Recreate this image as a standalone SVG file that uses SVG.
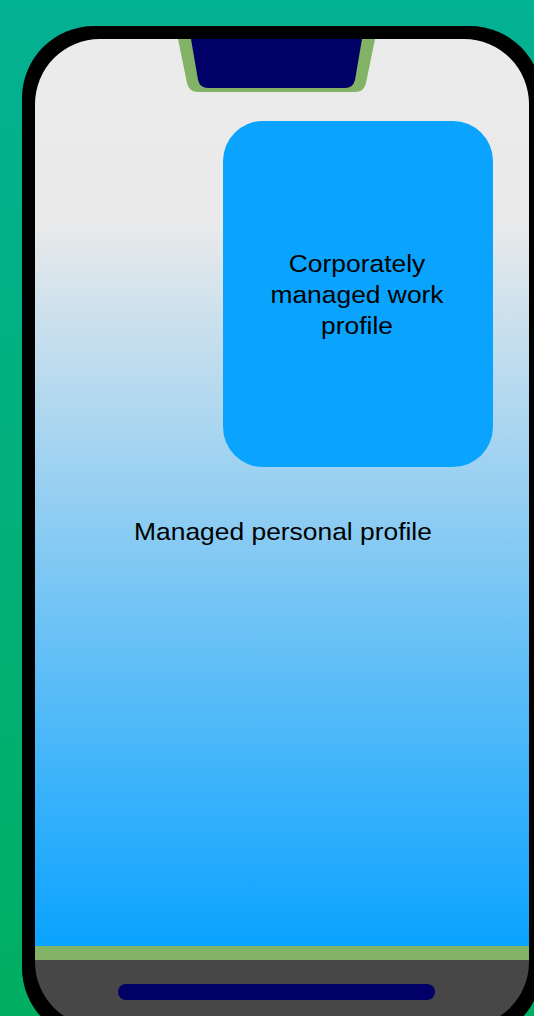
<svg xmlns="http://www.w3.org/2000/svg" width="534" height="1016" viewBox="0 0 534 1016">
  <defs>
    <linearGradient id="bg" x1="0" y1="0" x2="0" y2="1">
      <stop offset="0" stop-color="#03B193"/>
      <stop offset="1" stop-color="#00AF62"/>
    </linearGradient>
    <linearGradient id="screenGrad" gradientUnits="userSpaceOnUse" x1="0" y1="39" x2="0" y2="946">
      <stop offset="0" stop-color="#EBEBEB"/>
      <stop offset="0.2" stop-color="#EAEAEA"/>
      <stop offset="1" stop-color="#0AA3FF"/>
    </linearGradient>
    <clipPath id="screenClip">
      <rect x="35" y="39" width="494" height="988" rx="65" ry="65"/>
    </clipPath>
    <style>
      .lbl { font-family: "Liberation Sans", Arial, sans-serif; font-size: 24px; fill: #000000; text-anchor: middle; }
    </style>
  </defs>
  <rect x="0" y="0" width="534" height="1016" fill="url(#bg)"/>
  <g id="phone-frame">
    <rect x="22" y="26" width="520" height="1014" rx="72" ry="72" fill="#000000"/>
  </g>
  <g id="screen" clip-path="url(#screenClip)">
    <rect x="35" y="39" width="494" height="907" fill="url(#screenGrad)"/>
    <rect x="35" y="946" width="494" height="14" fill="#82B366"/>
    <rect x="35" y="960" width="494" height="70" fill="#474747"/>
  </g>
  <g id="notch">
    <path d="M178,39 L375,39 L366,83 Q364,92 355,92 L198,92 Q189,92 187,83 Z" fill="#82B366"/>
    <path d="M191,39 L362,39 L355,80 Q353,88 345,88 L208,88 Q200,88 198,80 Z" fill="#000066"/>
  </g>
  <g id="home-bar">
    <rect x="118" y="984" width="317" height="16" rx="8" ry="8" fill="#000066"/>
  </g>
  <g id="personal-profile">
    <text class="lbl" transform="translate(283,540) scale(1.1,1)" x="0" y="0">Managed personal profile</text>
  </g>
  <g id="work-profile">
    <rect x="223" y="121" width="270" height="346" rx="40" ry="40" fill="#0AA4FF"/>
    <text class="lbl" transform="translate(357,272) scale(1.1,1)" x="0" y="0">Corporately</text>
    <text class="lbl" transform="translate(357,303) scale(1.1,1)" x="0" y="0">managed work</text>
    <text class="lbl" transform="translate(357,334) scale(1.1,1)" x="0" y="0">profile</text>
  </g>
  <g id="connectors"/>
</svg>
